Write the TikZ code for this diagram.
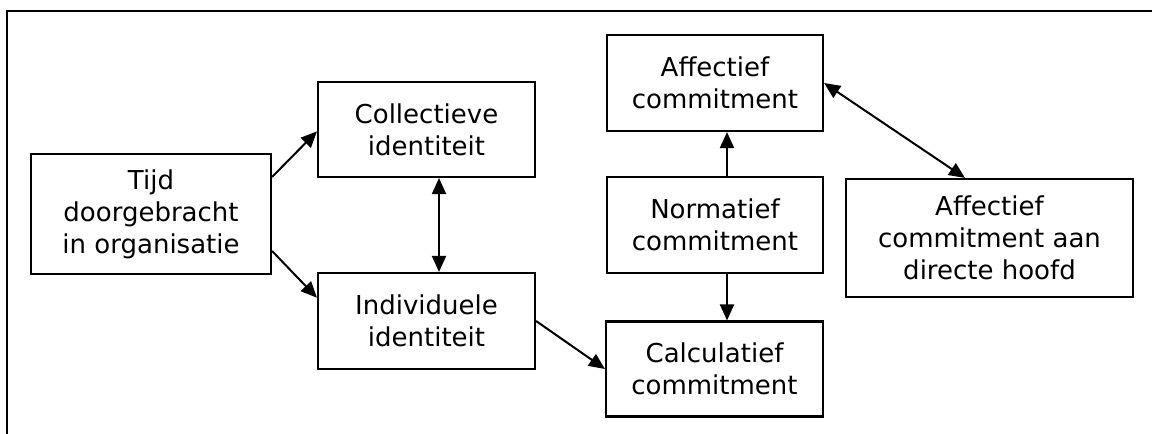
\documentclass[tikz,border=0pt]{standalone}
\usepackage{fontspec}
\setmainfont{DejaVu Sans}
\usetikzlibrary{arrows.meta}
\usetikzlibrary{calc}
\usetikzlibrary{shapes,positioning}
\tikzset{>={Triangle[length=12pt,width=10.5pt]}}
\tikzset{
  factor/.style={draw, line width=1.6pt, rectangle, align=center, inner sep=0pt,
    font=\fontsize{19.5}{24}\selectfont},
  link/.style={line width=1.5pt}
}

\begin{document}
\begin{tikzpicture}[x=0.75pt,y=0.75pt,yscale=-1,xscale=1]
\useasboundingbox (0,0) rectangle (1152,434);

%Straight Lines: frame top and left
\draw [line width=2.2pt]  (7,434) -- (7,11) -- (1152,11) ;

%Shape: Rectangle [id:tijd]
\node [factor, minimum width=180pt, minimum height=90pt] (tijd) at (151,214) {Tijd\\doorgebracht\\in organisatie};
%Shape: Rectangle [id:coll]
\node [factor, minimum width=162.75pt, minimum height=71.25pt] (coll) at (426.5,129.5) {Collectieve\\identiteit};
%Shape: Rectangle [id:indiv]
\node [factor, minimum width=162.75pt, minimum height=72pt] (indiv) at (426.5,321) {Individuele\\identiteit};
%Shape: Rectangle [id:aff]
\node [factor, minimum width=162pt, minimum height=72pt] (aff) at (715,83) {Affectief\\commitment};
%Shape: Rectangle [id:norm]
\node [factor, minimum width=162pt, minimum height=72pt] (norm) at (715,225) {Normatief\\commitment};
%Shape: Rectangle [id:calc]
\node [factor, minimum width=162.75pt, minimum height=71.25pt] (calc) at (714.5,369) {Calculatief\\commitment};
%Shape: Rectangle [id:affdir]
\node [factor, minimum width=215pt, minimum height=88.5pt] (affdir) at (989.5,238) {Affectief\\commitment aan\\directe hoofd};

%Straight Lines [id:tijd-coll]
\draw [link, ->]  (tijd.17) -- (coll.181) ;
%Straight Lines [id:tijd-indiv]
\draw [link, ->]  (tijd.-17) -- (indiv.168) ;
%Straight Lines [id:coll-indiv]
\draw [link, <->]  ($(coll.south)+(12.5,0)$) -- ($(indiv.north)+(12.5,0)$) ;
%Straight Lines [id:indiv-calc]
\draw [link, ->]  (indiv.east) -- (calc.west) ;
%Straight Lines [id:norm-aff]
\draw [link, ->]  ($(norm.north)+(12,0)$) -- ($(aff.south)+(12,0)$) ;
%Straight Lines [id:norm-calc]
\draw [link, ->]  ($(norm.south)+(12,0)$) -- ($(calc.north)+(12.5,0)$) ;
%Straight Lines [id:aff-affdir]
\draw [link, <->]  (aff.east) -- ($(affdir.north)+(-24.5,0)$) ;
\end{tikzpicture}
\end{document}
